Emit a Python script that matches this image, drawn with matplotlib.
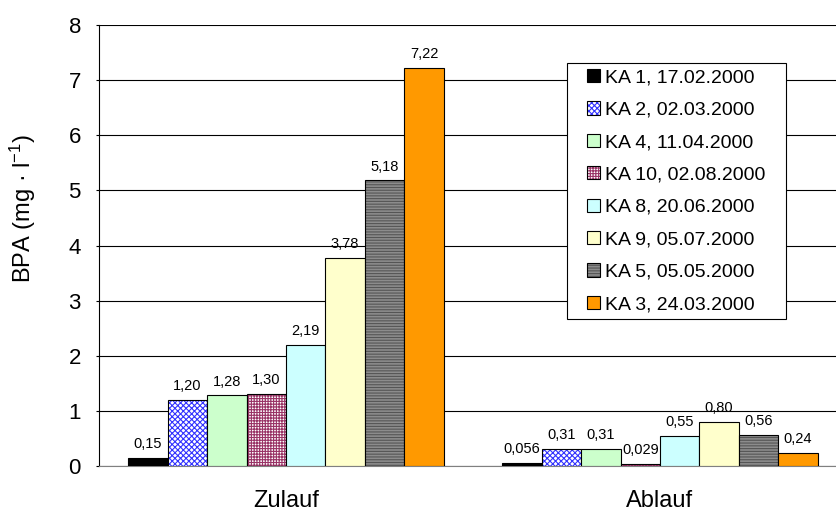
import numpy as np
import matplotlib.pyplot as plt
from matplotlib.colors import to_rgba
from matplotlib.patches import Rectangle
from matplotlib.container import BarContainer
from matplotlib.legend_handler import HandlerPatch, update_from_first_child

plt.rcParams['font.family'] = ['Liberation Sans', 'DejaVu Sans']
plt.rcParams['hatch.linewidth'] = 0.8

groups = ['Zulauf', 'Ablauf']
series = ['KA 1, 17.02.2000', 'KA 2, 02.03.2000', 'KA 4, 11.04.2000',
          'KA 10, 02.08.2000', 'KA 8, 20.06.2000', 'KA 9, 05.07.2000',
          'KA 5, 05.05.2000', 'KA 3, 24.03.2000']
zulauf = [0.15, 1.20, 1.28, 1.30, 2.19, 3.78, 5.18, 7.22]
ablauf = [0.056, 0.31, 0.31, 0.029, 0.55, 0.80, 0.56, 0.24]
labels_zu = ['0,15', '1,20', '1,28', '1,30', '2,19', '3,78', '5,18', '7,22']
labels_ab = ['0,056', '0,31', '0,31', '0,029', '0,55', '0,80', '0,56', '0,24']

faces = ['black', 'white', '#ccffcc', 'white', '#ccffff', '#ffffcc', '#8c8c8c', '#ff9900']
hatch_col = ['black', '#3333ff', 'black', '#993366', 'black', 'black', '#555555', 'black']
hatches = [None, 'xxxxxx', None, '++++++', None, None, '------', None]

fig = plt.figure(figsize=(8.36, 5.13), dpi=100)
ax = fig.add_axes([0.1184, 0.0916, 0.8947, 0.8596])

x = np.arange(len(groups))
w = 0.1054
for i in range(len(series)):
    pos = x + (i - 3.5) * w
    vals = [zulauf[i], ablauf[i]]
    bars = ax.bar(pos, vals, w, color=faces[i], edgecolor='black', linewidth=0.8,
                  hatch=hatches[i], label=series[i], zorder=3)
    if hatches[i]:
        for b in bars:
            b._hatch_color = to_rgba(hatch_col[i])
    for p, v, t in zip(pos, vals, [labels_zu[i], labels_ab[i]]):
        ax.annotate(t, (p, v), xytext=(0, 5), textcoords='offset points',
                    ha='center', va='bottom', fontsize=10.5, zorder=4)

ax.set_xlim(-0.5, 1.5)
ax.set_ylim(0, 8)
ax.set_yticks(range(0, 9))
ax.set_xticks(x)
ax.set_xticklabels(groups, fontsize=17)
ax.tick_params(axis='x', length=0, pad=17)
ax.tick_params(axis='y', labelsize=16, length=2, direction='out', pad=11)
ax.yaxis.grid(True, color='black', linewidth=0.8, zorder=0)
ax.spines['top'].set_visible(False)
ax.spines['right'].set_visible(False)
ax.spines['bottom'].set_color('#808080')
ax.spines['left'].set_linewidth(0.8)
ax.set_ylabel(r'BPA (mg · l$\mathregular{^{-1}}$)', fontsize=17)
ax.yaxis.set_label_coords(-0.082, 0.585)


# small square legend keys, set in from the left border
def square_key(legend, orig_handle, xdescent, ydescent, width, height, fontsize):
    s = 0.68 * fontsize
    return Rectangle((-xdescent + width - s, -ydescent + (height - s) / 2), s, s)


leg = ax.legend(loc='upper left', bbox_to_anchor=(0.626, 0.914), fontsize=14,
                frameon=False, handlelength=1.4, handleheight=0.7,
                handletextpad=0.25, labelspacing=0.76, borderpad=0.3,
                borderaxespad=0,
                handler_map={BarContainer: HandlerPatch(patch_func=square_key,
                                                        update_func=update_from_first_child)})
leg.set_zorder(5)

# legend box with a wider right margin
fig.canvas.draw()
bb = leg.get_window_extent()
frame = Rectangle((bb.x0, bb.y0), bb.width + 15, bb.height, transform=None,
                  facecolor='white', edgecolor='black', linewidth=0.8,
                  zorder=4.5, clip_on=False)
ax.add_patch(frame)

fig.savefig('out.png', dpi=100)
